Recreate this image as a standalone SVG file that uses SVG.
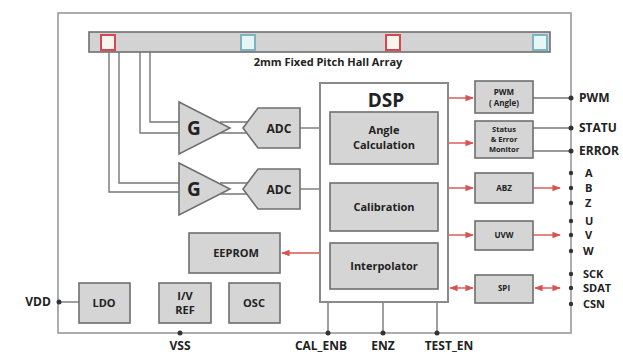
<svg xmlns="http://www.w3.org/2000/svg" width="623" height="354" viewBox="0 0 623 354">
<defs>
<style>
.blk{fill:#d5d5d5;stroke:#6f6f6f;stroke-width:1.6}
.ln{fill:none;stroke:#777;stroke-width:1.4}
.red{fill:none;stroke:#d9534f;stroke-width:1.4}
.t{font-family:"Open Sans","Noto Sans",sans-serif;font-weight:bold;fill:#222;text-anchor:middle}
.s{text-anchor:start}
.pin{fill:#333}
</style>
<marker id="ar" viewBox="0 0 10 10" refX="9" refY="5" markerWidth="6" markerHeight="6" orient="auto-start-reverse">
<path d="M0,1 L10,5 L0,9 z" fill="#d9534f"/>
</marker>
</defs>
<rect width="623" height="354" fill="#fff"/>
<g id="chip">
<rect x="58" y="13" width="513" height="320" fill="none" stroke="#999" stroke-width="1.6"/>
</g>
<g id="hall-array">
<rect x="89" y="32" width="461" height="20" fill="#d3d3d3" stroke="#6f6f6f" stroke-width="1.6"/>
<rect x="101" y="35" width="14" height="15" fill="#f6f6ee" stroke="#d9464f" stroke-width="2"/>
<rect x="241" y="35" width="14" height="15" fill="#e6f5f5" stroke="#7fb2c2" stroke-width="2"/>
<rect x="386" y="35" width="14" height="15" fill="#f6f6ee" stroke="#d9464f" stroke-width="2"/>
<rect x="533" y="35" width="14" height="15" fill="#e6f5f5" stroke="#7fb2c2" stroke-width="2"/>
<text class="t" x="328" y="66" font-size="11">2mm Fixed Pitch Hall Array</text>
</g>
<g id="connectors">
<path class="ln" d="M150,52 V122 H182"/>
<path class="ln" d="M140,52 V133 H182"/>
<path class="ln" d="M119,52 V183 H182"/>
<path class="ln" d="M109,52 V192 H182"/>
<path class="ln" d="M220,122 H248 M220,133 H248"/>
<path class="ln" d="M220,183 H248 M220,194 H248"/>
<path class="ln" d="M300,128 H320"/>
<path class="ln" d="M300,189 H320"/>
<path class="red" d="M448,98 H473" marker-end="url(#ar)"/>
<path class="red" d="M448,143 H473" marker-end="url(#ar)"/>
<path class="red" d="M448,188 H473" marker-end="url(#ar)"/>
<path class="red" d="M448,235 H473" marker-end="url(#ar)"/>
<path class="red" d="M450,288 H473" marker-start="url(#ar)" marker-end="url(#ar)"/>
<path class="red" d="M282,253 H320" marker-start="url(#ar)"/>
<path class="red" d="M533,188 H560" marker-end="url(#ar)"/>
<path class="red" d="M533,235 H560" marker-end="url(#ar)"/>
<path class="red" d="M535,288 H560" marker-start="url(#ar)" marker-end="url(#ar)"/>
<path class="ln" d="M533,98 H571"/>
<path class="ln" d="M533,128 H571"/>
<path class="ln" d="M533,151 H571"/>
<path class="ln" d="M58,302 H79"/>
<path class="ln" d="M328,302 V333"/>
<path class="ln" d="M383,302 V333"/>
<path class="ln" d="M437,302 V333"/>
</g>
<g id="gain1">
<path class="blk" d="M179,102 L230,128 L179,154 Z"/>
<text class="t" x="194" y="135" font-size="19">G</text>
</g>
<g id="gain2">
<path class="blk" d="M179,163 L230,189 L179,215 Z"/>
<text class="t" x="194" y="196" font-size="19">G</text>
</g>
<g id="adc1">
<path class="blk" d="M258,108 H300 V148 H258 L243,128 Z"/>
<text class="t" x="279" y="133" font-size="12">ADC</text>
</g>
<g id="adc2">
<path class="blk" d="M258,169 H300 V209 H258 L243,189 Z"/>
<text class="t" x="279" y="194" font-size="12">ADC</text>
</g>
<g id="dsp">
<rect x="320" y="83" width="128" height="219" fill="#fff" stroke="#8a8a8a" stroke-width="2"/>
<text class="t" x="386" y="107" font-size="19">DSP</text>
</g>
<g id="angle">
<rect class="blk" x="330" y="112" width="108" height="52"/>
<text class="t" x="384" y="134" font-size="11">Angle</text>
<text class="t" x="384" y="149" font-size="11">Calculation</text>
</g>
<g id="calibration">
<rect class="blk" x="330" y="183" width="108" height="48"/>
<text class="t" x="384" y="211" font-size="11">Calibration</text>
</g>
<g id="interpolator">
<rect class="blk" x="330" y="243" width="108" height="46"/>
<text class="t" x="384" y="270" font-size="11">Interpolator</text>
</g>
<g id="eeprom">
<rect class="blk" x="189" y="233" width="91" height="40"/>
<text class="t" x="236" y="257" font-size="11">EEPROM</text>
</g>
<g id="ldo">
<rect class="blk" x="79" y="283" width="51" height="40"/>
<text class="t" x="104" y="307" font-size="11">LDO</text>
</g>
<g id="ivref">
<rect class="blk" x="159" y="283" width="52" height="40"/>
<text class="t" x="185" y="300" font-size="11">I/V</text>
<text class="t" x="185" y="314" font-size="11">REF</text>
</g>
<g id="osc">
<rect class="blk" x="229" y="283" width="51" height="40"/>
<text class="t" x="254" y="307" font-size="11">OSC</text>
</g>
<g id="pwm-block">
<rect class="blk" x="475" y="81" width="58" height="32"/>
<text class="t" x="504" y="95" font-size="8">PWM</text>
<text class="t" x="504" y="106" font-size="8">( Angle)</text>
</g>
<g id="status-block">
<rect class="blk" x="475" y="121" width="58" height="37"/>
<text class="t" x="504" y="132" font-size="7.5">Status</text>
<text class="t" x="504" y="142" font-size="7.5">&amp; Error</text>
<text class="t" x="504" y="152" font-size="7.5">Monitor</text>
</g>
<g id="abz-block">
<rect class="blk" x="475" y="173" width="58" height="30"/>
<text class="t" x="504" y="191" font-size="8">ABZ</text>
</g>
<g id="uvw-block">
<rect class="blk" x="475" y="221" width="58" height="29"/>
<text class="t" x="504" y="238" font-size="8">UVW</text>
</g>
<g id="spi-block">
<rect class="blk" x="475" y="275" width="58" height="28"/>
<text class="t" x="504" y="291" font-size="8">SPI</text>
</g>
<g id="pins">
<circle class="pin" cx="571" cy="98" r="2.5"/>
<circle class="pin" cx="571" cy="128" r="2.5"/>
<circle class="pin" cx="571" cy="151" r="2.5"/>
<circle class="pin" cx="571" cy="173" r="2.2"/>
<circle class="pin" cx="571" cy="188" r="2.2"/>
<circle class="pin" cx="571" cy="203" r="2.2"/>
<circle class="pin" cx="571" cy="221" r="2.2"/>
<circle class="pin" cx="571" cy="235" r="2.2"/>
<circle class="pin" cx="571" cy="251" r="2.2"/>
<circle class="pin" cx="571" cy="274" r="2.2"/>
<circle class="pin" cx="571" cy="288" r="2.2"/>
<circle class="pin" cx="571" cy="304" r="2.2"/>
<circle class="pin" cx="59" cy="302" r="2.5"/>
<circle class="pin" cx="180" cy="333" r="2.5"/>
<circle class="pin" cx="328" cy="333" r="2.5"/>
<circle class="pin" cx="383" cy="333" r="2.5"/>
<circle class="pin" cx="437" cy="333" r="2.5"/>
</g>
<g id="labels" font-size="12">
<text class="t s" x="579" y="102">PWM</text>
<text class="t s" x="579" y="132">STATU</text>
<text class="t s" x="579" y="155">ERROR</text>
<g font-size="11">
<text class="t s" x="585" y="177">A</text>
<text class="t s" x="585" y="192">B</text>
<text class="t s" x="585" y="207">Z</text>
<text class="t s" x="585" y="225">U</text>
<text class="t s" x="585" y="239">V</text>
<text class="t s" x="583" y="255">W</text>
<text class="t s" x="583" y="278">SCK</text>
<text class="t s" x="583" y="292">SDAT</text>
<text class="t s" x="583" y="308">CSN</text>
</g>
<text class="t" x="38" y="306">VDD</text>
<text class="t" x="180" y="350">VSS</text>
<text class="t" x="321" y="350">CAL_ENB</text>
<text class="t" x="383" y="350">ENZ</text>
<text class="t" x="449" y="350">TEST_EN</text>
</g>
</svg>
